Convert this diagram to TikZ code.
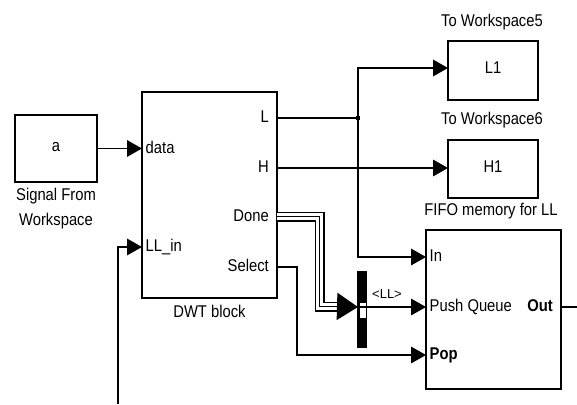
\documentclass[tikz,border=0pt]{standalone}
\usepackage{fontspec}
\setmainfont{Liberation Sans}[FakeStretch=0.87]
\newfontfamily\plainfont{Liberation Sans}
\usetikzlibrary{arrows.meta, positioning}

\tikzset{
  blk/.style={draw, line width=1.6pt, inner sep=0pt, text height=12pt, text depth=6pt},
  wire/.style={line width=1.8pt},
  sig/.style={line width=1.8pt, -{Triangle[length=15pt,width=16.5pt]}},
  busarrow/.style={line width=1.8pt, -{Triangle[length=21pt,width=27pt]}},
  bus/.style={line width=10pt,
    postaction={draw, white, line width=6.6pt},
    postaction={draw, black, line width=1.6pt}},
  lport/.style={anchor=west, inner sep=0pt, xshift=3.5pt, text height=12pt, text depth=3pt},
  rport/.style={anchor=east, inner sep=0pt, xshift=-8pt, text height=12pt, text depth=3pt},
  dot/.style={fill, inner sep=0pt, minimum size=4.5pt},
}

\begin{document}
\begin{tikzpicture}[x=1pt, y=-1pt, font=\fontsize{17}{19}\selectfont]
\useasboundingbox (0,0) rectangle (577,404);

\node[blk, minimum width=82pt, minimum height=67pt] (sig) at (56,148.5) {a};
\node[anchor=north, align=center, inner sep=0pt, font=\fontsize{17}{25}\selectfont] (siglbl) at (56,188) {Signal From\\Workspace};

\node[blk, minimum width=135pt, minimum height=206pt] (dwt) at (209.5,195) {};
\node[anchor=base] (dwtlbl) at (209.5,317) {DWT block};
\coordinate (dwt-data) at (142,148.5);
\coordinate (dwt-llin) at (142,247);
\node[lport] (p-data) at (dwt-data) {data};
\node[lport] (p-llin) at (dwt-llin) {LL\_in};
\foreach \n/\y/\t in {l/118/L, h/168/H, done/216.5/Done, sel/267/Select} {
  \coordinate (dwt-\n) at (277,\y);
  \node[rport] (p-\n) at (dwt-\n) {\t};
}

\node[blk, minimum width=90pt, minimum height=59pt] (l1) at (493,70.5) {L1};
\node[anchor=base] (l1lbl) at (492,27) {To Workspace5};
\node[blk, minimum width=90pt, minimum height=58pt] (h1) at (493,169) {H1};
\node[anchor=base] (h1lbl) at (492,124) {To Workspace6};
\coordinate (l1in) at (448,68);
\coordinate (h1in) at (448,168);

\node[blk, minimum width=135pt, minimum height=159pt] (fifo) at (493.5,309.5) {};
\node[anchor=base] (fifolbl) at (491,215) {FIFO memory for LL};
\coordinate (fifo-in) at (426,257);
\coordinate (fifo-push) at (426,307);
\coordinate (fifo-pop) at (426,355);
\coordinate (fifo-out) at (561,307);
\node[lport] (p-in) at (fifo-in) {In};
\node[lport] (p-push) at (fifo-push) {Push Queue};
\node[lport] (p-pop) at (fifo-pop) {\textbf{Pop}};
\node[rport] (p-out) at (fifo-out) {\textbf{Out}};

\node[fill, inner sep=0pt, minimum width=10pt, minimum height=77pt] (bussel) at (362,309.5) {};
\node[fill=white, inner sep=0pt, minimum width=6pt, minimum height=15pt] (selwin) at (362.5,310.5) {};
\node[anchor=base, font=\plainfont\fontsize{13}{15}\selectfont] (ll) at (387,298) {<LL>};

\coordinate (llsrc) at (118,404);
\coordinate (selbend) at (297,355);
\coordinate (busbend) at (319.5,306.5);
\coordinate (busend) at (340,306.5);
\coordinate (busin) at (358,307);
\coordinate (outend) at (577,307);
\node[dot] (jl) at (358,118) {};

\draw[sig] (sig.east) -- (dwt-data);
\draw[sig] (llsrc) |- (dwt-llin);
\draw[wire] (dwt-l) -- (jl.center);
\draw[sig] (jl.center) |- (l1in);
\draw[sig] (jl.center) |- (fifo-in);
\draw[sig] (dwt-h) -- (h1in);
\draw[sig] (dwt-sel) -| (selbend) -- (fifo-pop);
\draw[bus] (dwt-done) -| (busbend) -- (busend);
\draw[busarrow] (busend) -- (busin);
\draw[sig] (selwin.west |- busin) -- (fifo-push);
\draw[wire] (fifo-out) -- (outend);
\end{tikzpicture}
\end{document}
